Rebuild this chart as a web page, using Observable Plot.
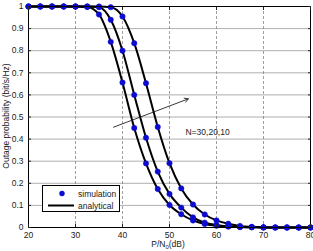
<!DOCTYPE html>
<html><head><meta charset="utf-8">
<script src="https://cdn.jsdelivr.net/npm/d3@7"></script>
<script src="https://cdn.jsdelivr.net/npm/@observablehq/plot@0.6"></script>
<style>
body{margin:0;background:#fff;font-family:"Liberation Sans",Arial,sans-serif;}
#wrap{position:relative;width:313px;height:251px;}
#legend{position:absolute;left:42px;top:185px;width:78px;height:27px;border:1px solid #000;background:#fff;font-size:8.5px;color:#222;box-sizing:border-box;}
#legend .row{position:absolute;left:0;height:12px;line-height:12px;}
</style></head>
<body><div id="wrap"></div>
<script>
const snr = [20,22.5,25,27.5,30,32.5,35,37.5,40,42.5,45,47.5,50,52.5,55,57.5,60,62.5,65,67.5,70,72.5,75,77.5,80];
const curveA = [1,1,1,1,1,0.998,0.964,0.84,0.656,0.45,0.29,0.174,0.102,0.06,0.032,0.016,0.008,0.004,0.002,0.001,0,0,0,0,0];
const curveB = [1,1,1,1,1,1,0.997,0.94,0.80,0.60,0.406,0.253,0.152,0.09,0.046,0.022,0.011,0.005,0.002,0.001,0,0,0,0,0];
const curveC = [1,1,1,1,1,1,1,0.997,0.955,0.834,0.653,0.455,0.291,0.177,0.104,0.059,0.032,0.017,0.007,0.003,0.001,0,0,0,0];
const seriesNames = ["N=10","N=20","N=30"];
const xTicks = [20,30,40,50,60,70,80];
const xGrid = [30,40,50,60,70];
const yTicks = [0,0.1,0.2,0.3,0.4,0.5,0.6,0.7,0.8,0.9,1];
const yTickLabels = ["0","0.1","0.2","0.3","0.4","0.5","0.6","0.7","0.8","0.9","1"];
const yGrid = [0.1,0.2,0.3,0.4,0.5,0.6,0.7,0.8,0.9];
const arrowData = [{x1:38.1, y1:0.454, x2:54.0, y2:0.582}];
const noteData = [{x:53.4, y:0.43, text:"N=30,20,10"}];

const rows = [];
[curveA, curveB, curveC].forEach((arr, i) => arr.forEach((v, j) => rows.push({s: seriesNames[i], x: snr[j], y: v})));

const blue = "#0c0cd0";
const plot = Plot.plot({
  width: 313, height: 251,
  marginTop: 6, marginRight: 3, marginBottom: 24, marginLeft: 28,
  style: {fontFamily: '"Liberation Sans", Arial, sans-serif', fontSize: "8.5px", background: "#fff", color: "#222"},
  x: {domain: [20, 80]},
  y: {domain: [0, 1]},
  marks: [
    Plot.ruleY(yGrid, {stroke: "#9a9a9a", strokeWidth: 0.8}),
    Plot.ruleX(xGrid, {stroke: "#777", strokeWidth: 0.7, strokeDasharray: "3,2"}),
    Plot.line(rows, {x: "x", y: "y", z: "s", stroke: "#000", strokeWidth: 2, curve: "monotone-x"}),
    Plot.dot(rows, {x: "x", y: "y", r: 2.7, fill: blue, stroke: blue, strokeWidth: 0.5}),
    Plot.arrow(arrowData, {x1: "x1", y1: "y1", x2: "x2", y2: "y2", stroke: "#222", strokeWidth: 0.9, headLength: 7}),
    Plot.text(noteData, {x: "x", y: "y", text: "text", textAnchor: "start", fill: "#222", fontSize: 8.5}),
    Plot.frame({stroke: "#000", strokeWidth: 1}),
    Plot.axisX({ticks: xTicks, tickSize: 0, tickPadding: 4, tickFormat: d => String(d), label: null, fill: "#222"}),
    Plot.axisX({anchor: "top", ticks: xTicks, tickSize: -3, tickFormat: () => "", label: null}),
    Plot.axisX({anchor: "bottom", ticks: xTicks, tickSize: -3, tickFormat: () => "", label: null}),
    Plot.axisY({ticks: yTicks, tickSize: 0, tickPadding: 5, tickFormat: (d, i) => yTickLabels[i], label: null, fill: "#222"}),
    Plot.axisY({anchor: "right", ticks: yTicks, tickSize: -3, tickFormat: () => "", label: null}),
    Plot.axisY({anchor: "left", ticks: yTicks, tickSize: -3, tickFormat: () => "", label: null})
  ]
});
const wrap = document.getElementById("wrap");
wrap.appendChild(plot);

const ylab = document.createElement("div");
ylab.textContent = "Outage probability (bit/s/Hz)";
ylab.style.cssText = "position:absolute;left:6px;top:116px;transform:translate(-50%,-50%) rotate(-90deg);white-space:nowrap;font-size:8.5px;color:#222;";
wrap.appendChild(ylab);

const xlab = document.createElement("div");
xlab.innerHTML = "P/N<sub style='font-size:6px;vertical-align:-2px'>0</sub>(dB)";
xlab.style.cssText = "position:absolute;left:168px;top:245.5px;transform:translate(-50%,-50%);white-space:nowrap;font-size:8.5px;line-height:9px;color:#222;";
wrap.appendChild(xlab);

const leg = document.createElement("div");
leg.id = "legend";
leg.innerHTML =
  "<svg width='78' height='27' style='position:absolute;left:0;top:0'>" +
  "<circle cx='19' cy='7.5' r='2.7' fill='" + blue + "'/>" +
  "<line x1='5' x2='31' y1='19.5' y2='19.5' stroke='#000' stroke-width='2'/></svg>" +
  "<div class='row' style='left:35px;top:1.5px'>simulation</div>" +
  "<div class='row' style='left:35px;top:13.5px'>analytical</div>";
wrap.appendChild(leg);
</script></body></html>
